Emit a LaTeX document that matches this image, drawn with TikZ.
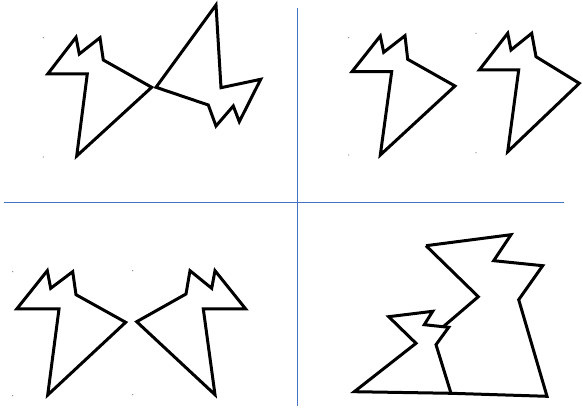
\documentclass[tikz,border=0pt]{standalone}
\usepackage{xcolor}
\definecolor{DividerBlue}{HTML}{4472C4}
\definecolor{MarkGray}{HTML}{8C8C8C}
\tikzset{
    % Outline of the pieces
    outline/.style={
        draw=black,
        line width=3pt,
        line join=miter
    },
    % Blue dividing lines
    divider/.style={
        draw=DividerBlue,
        line width=1.8pt
    },
    % Tiny corner marks
    markdot/.style={
        fill=MarkGray,
        draw=none
    }
}

\begin{document}
\begin{tikzpicture}[x=1pt, y=-1pt]
    \useasboundingbox (0,0) rectangle (582,409);

    % Dividers
    \draw[divider] (4,202.5) -- (564,202.5);
    \draw[divider] (297.5,8) -- (297.5,406);

    % Top left: two pieces meeting at a point
    \draw[outline] (47.7,74) -- (76,37.3) -- (79.3,54) -- (100,37.7) -- (103.3,60)
        -- (151.7,87.3) -- (76.7,156) -- (87.3,74) -- cycle;
    \draw[outline] (156,87.3) -- (216,5) -- (221,87.7) -- (260.7,79.3) -- (239.3,121.7)
        -- (233.3,106) -- (216,126) -- (208.3,105) -- cycle;
    \fill[markdot] (43.3,37.7) circle (0.7) (43.3,157) circle (0.7);

    % Top right: two copies side by side
    \draw[outline] (352,71.7) -- (380.3,36) -- (383.7,52.3) -- (405,35.7) -- (407.7,59.3)
        -- (455,86) -- (380.3,155) -- (391.7,71.7) -- cycle;
    \draw[outline] (479.3,70) -- (507.7,33.3) -- (511,50) -- (531.7,33.3) -- (536,56.7)
        -- (579.3,83.3) -- (507.7,151.7) -- (518.7,70) -- cycle;
    \fill[markdot] (348.7,37.7) circle (0.7) (348.7,155) circle (0.7);
    \fill[markdot] (476,33.3) circle (0.7) (476,152.7) circle (0.7);

    % Bottom left: piece and its mirror
    \draw[outline] (16.7,309) -- (47.3,270.7) -- (50.7,288.3) -- (72.7,271.7) -- (76,294.7)
        -- (125.7,322.3) -- (47.7,395) -- (59,309) -- cycle;
    \draw[outline] (245.7,309) -- (215,270.7) -- (211.7,288.3) -- (190,270.7) -- (186,294)
        -- (136.7,321.7) -- (215,394.7) -- (203.3,309) -- cycle;
    \fill[markdot] (12.7,271.7) circle (0.7) (12.7,395.7) circle (0.7);
    \fill[markdot] (132.7,270.7) circle (0.7) (132.7,394.7) circle (0.7);

    % Bottom right: small piece in front of a large one
    \draw[outline] (426,245.7) -- (511,234.7) -- (493.7,260.7) -- (542.7,265.7) -- (518.7,299.7)
        -- (547,396.3) -- (451,393.3);
    \draw[outline] (426,245.7) -- (478.3,296.7) -- (443.5,326.5);
    \draw[outline] (388.7,316.7) -- (432.7,311.3) -- (424.3,324.7) -- (448.7,327.3) -- (436,344.7)
        -- (451,393.3) -- (354.3,391.7) -- (416,343.3) -- cycle;
\end{tikzpicture}
\end{document}
